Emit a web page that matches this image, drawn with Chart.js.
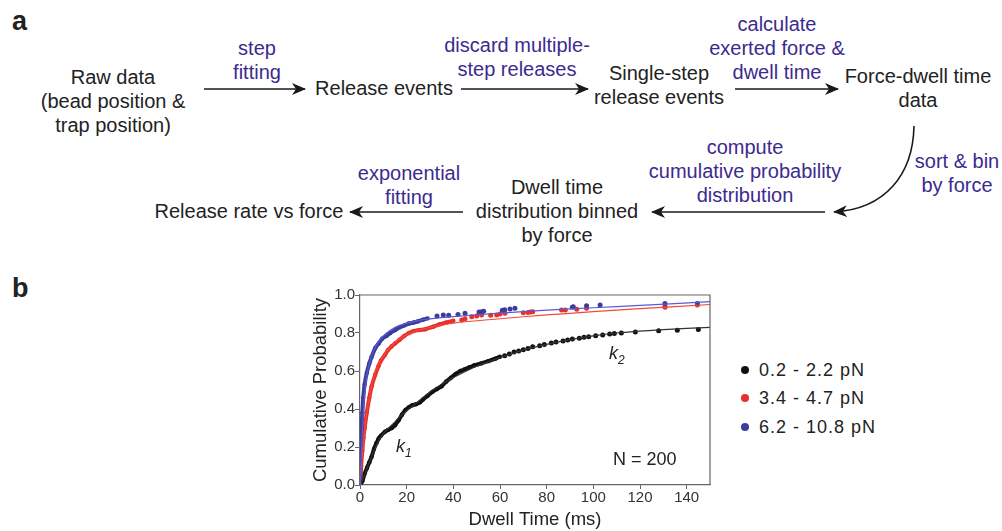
<!DOCTYPE html>
<html>
<head>
<meta charset="utf-8">
<script src="https://cdn.jsdelivr.net/npm/chart.js@4/dist/chart.umd.min.js"></script>
<style>
  html, body { margin: 0; padding: 0; background: #fff; }
  body { width: 1002px; height: 531px; position: relative; overflow: hidden;
         font-family: "Liberation Sans", Arial, sans-serif; color: #222; }
  .t { position: absolute; transform: translate(-50%, -50%); white-space: nowrap;
       text-align: center; font-size: 20px; line-height: 24px; }
  .p { color: #3d2a8e; }
  .panel { position: absolute; font-weight: bold; font-size: 27px; }
  #wrap { position: absolute; left: 300px; top: 280px; width: 420px; height: 251px; }
  .ann { position: absolute; white-space: nowrap; font-size: 18px; color: #222; }
  .lg { position: absolute; left: 759px; font-size: 18px; letter-spacing: 1px; transform: translateY(-50%); white-space: nowrap; }
  .dot { position: absolute; left: 741px; width: 8px; height: 8px; border-radius: 50%; transform: translateY(-50%); }
</style>
</head>
<body>

<div class="panel" style="left:12px; top:6px;">a</div>
<div class="panel" style="left:12px; top:273px;">b</div>

<!-- flow diagram, part a -->
<div class="t" style="left:113px; top:101px;">Raw data<br>(bead position &amp;<br>trap position)</div>
<div class="t p" style="left:257px; top:60px;">step<br>fitting</div>
<div class="t" style="left:384px; top:88px;">Release events</div>
<div class="t p" style="left:517px; top:57px;">discard multiple-<br>step releases</div>
<div class="t" style="left:659px; top:85px;">Single-step<br>release events</div>
<div class="t p" style="left:777px; top:48px;">calculate<br>exerted force &amp;<br>dwell time</div>
<div class="t" style="left:918px; top:88px;">Force-dwell time<br>data</div>
<div class="t p" style="left:957px; top:173px;">sort &amp; bin<br>by force</div>
<div class="t p" style="left:745px; top:171px;">compute<br>cumulative probability<br>distribution</div>
<div class="t" style="left:557px; top:211px;">Dwell time<br>distribution binned<br>by force</div>
<div class="t p" style="left:409px; top:185px;">exponential<br>fitting</div>
<div class="t" style="left:249px; top:211px;">Release rate vs force</div>

<svg width="1002" height="531" style="position:absolute; left:0; top:0;">
  <defs>
    <marker id="ah" viewBox="0 0 14 12" refX="13" refY="6" markerWidth="14" markerHeight="12"
            markerUnits="userSpaceOnUse" orient="auto">
      <path d="M0,0 L14,6 L0,12 L4,6 Z" fill="#1a1a1a"/>
    </marker>
  </defs>
  <g stroke="#1a1a1a" stroke-width="1.6" fill="none">
    <line x1="204" y1="89" x2="305" y2="89" marker-end="url(#ah)"/>
    <line x1="461" y1="89" x2="588" y2="89" marker-end="url(#ah)"/>
    <line x1="735" y1="89" x2="838" y2="89" marker-end="url(#ah)"/>
    <path d="M914,126 C913,175 885,209 834,212" marker-end="url(#ah)"/>
    <line x1="825" y1="212" x2="652" y2="212" marker-end="url(#ah)"/>
    <line x1="463" y1="212" x2="350" y2="212" marker-end="url(#ah)"/>
  </g>
</svg>

<!-- part b -->
<div id="wrap"><canvas id="chart" width="420" height="251"></canvas></div>

<div class="ann" style="left:396px; top:436px; font-style:italic;">k<sub style="font-size:12px;">1</sub></div>
<div class="ann" style="left:609px; top:343px; font-style:italic;">k<sub style="font-size:12px;">2</sub></div>
<div class="ann" style="left:613px; top:449px;">N = 200</div>

<div class="dot" style="top:370px; background:#111;"></div>
<div class="lg" style="top:370px;">0.2 - 2.2 pN</div>
<div class="dot" style="top:398px; background:#e8302a;"></div>
<div class="lg" style="top:398px;">3.4 - 4.7 pN</div>
<div class="dot" style="top:427px; background:#3c3c9c;"></div>
<div class="lg" style="top:427px;">6.2 - 10.8 pN</div>

<script>
// tick positions
const xTickValues = [0, 20, 40, 60, 80, 100, 120, 140];
const yTickValues = [0, 0.2, 0.4, 0.6, 0.8, 1.0];

// 0.2 - 2.2 pN  (dwell time ms, cumulative probability)
const blackDense = [
  [0, 0], [1, 0.02], [2, 0.06], [3, 0.09], [4, 0.12], [5, 0.15], [6, 0.19], [7, 0.22],
  [8, 0.245], [9, 0.26], [10.7, 0.28], [12, 0.29], [13.6, 0.3], [15, 0.315], [16.5, 0.34],
  [18, 0.37], [19.5, 0.395], [21, 0.41], [22.5, 0.42], [24, 0.425], [25.7, 0.435], [27, 0.45],
  [29, 0.47], [31, 0.49], [33, 0.505], [35, 0.52], [37, 0.545], [39, 0.565], [41, 0.585],
  [43, 0.6], [45, 0.61], [47, 0.62], [49, 0.63], [52, 0.64], [55, 0.652], [58, 0.665], [60, 0.675]
];
const blackSparse = [
  [62, 0.68], [64, 0.69], [66, 0.7], [68, 0.705], [70, 0.712], [72, 0.718], [74, 0.728],
  [77, 0.733], [79, 0.74], [82, 0.748], [84, 0.752], [87, 0.758], [89, 0.763], [91, 0.768],
  [94, 0.772], [96, 0.777], [98, 0.78], [101, 0.785], [104, 0.79], [107, 0.795], [109, 0.798],
  [112, 0.8], [118, 0.805], [128, 0.812], [136, 0.815], [145, 0.818]
];
const blackFit = [
  [0, 0], [2, 0.055], [4, 0.12], [6, 0.18], [8, 0.23], [10, 0.27], [14, 0.32], [18, 0.37],
  [22, 0.41], [26, 0.45], [30, 0.49], [35, 0.53], [40, 0.565], [50, 0.625], [60, 0.67],
  [70, 0.71], [80, 0.74], [90, 0.765], [100, 0.785], [110, 0.8], [120, 0.81], [130, 0.818], [150, 0.83]
];

// 3.4 - 4.7 pN
const redDense = [
  [0, 0], [0.5, 0.1], [1, 0.18], [1.5, 0.25], [2, 0.3], [2.9, 0.38], [4, 0.46], [5, 0.52],
  [6.5, 0.58], [7.9, 0.625], [9, 0.655], [10.7, 0.685], [12, 0.71], [13.6, 0.73], [15, 0.745],
  [17, 0.765], [19, 0.785], [21, 0.8], [23, 0.81], [25.7, 0.816], [28, 0.82], [31.4, 0.833],
  [34, 0.845], [37, 0.855], [40, 0.865]
];
const redSparse = [
  [43.6, 0.868], [45, 0.875], [47.9, 0.886], [50, 0.89], [52.1, 0.895], [56, 0.893],
  [58.6, 0.895], [60, 0.9], [62.1, 0.904], [70, 0.907], [72, 0.908], [73, 0.91], [74, 0.912],
  [86.4, 0.921], [88, 0.921], [92.9, 0.925], [97.1, 0.93], [130.7, 0.935], [130.7, 0.94], [144.6, 0.947]
];
const redFit = [
  [0, 0], [1, 0.15], [2, 0.29], [3, 0.39], [4, 0.46], [6, 0.57], [8, 0.635], [10, 0.68],
  [13, 0.725], [16, 0.76], [20, 0.79], [25, 0.815], [30, 0.83], [40, 0.852], [60, 0.875],
  [80, 0.895], [100, 0.912], [120, 0.928], [150, 0.95]
];

// 6.2 - 10.8 pN
const blueDense = [
  [0, 0], [0.3, 0.2], [0.6, 0.3], [1, 0.38], [1.4, 0.46], [2, 0.53], [2.9, 0.59], [4, 0.64],
  [5, 0.675], [6.5, 0.72], [8, 0.745], [9.5, 0.77], [11.4, 0.785], [13, 0.8], [15, 0.815],
  [17, 0.83], [19, 0.84], [21, 0.85], [23, 0.855], [25, 0.862], [27, 0.87], [29, 0.877]
];
const blueSparse = [
  [33, 0.89], [35.7, 0.895], [38, 0.893], [42, 0.897], [45, 0.904], [51, 0.91], [52.1, 0.912],
  [53, 0.915], [61, 0.92], [62, 0.922], [64.3, 0.926], [66.4, 0.93], [91, 0.935], [91.4, 0.938],
  [97.1, 0.944], [102.9, 0.947], [130.7, 0.955], [144.6, 0.955]
];
const blueFit = [
  [0, 0], [1, 0.28], [2, 0.48], [3, 0.58], [4, 0.64], [6, 0.71], [8, 0.755], [10, 0.785],
  [13, 0.815], [16, 0.835], [20, 0.85], [25, 0.865], [30, 0.874], [40, 0.886], [60, 0.905],
  [80, 0.92], [100, 0.933], [120, 0.945], [150, 0.965]
];

const xy = (arr) => arr.map(([x, y]) => ({ x, y }));

const BLACK = '#111111';
const RED = '#e8302a';
const BLUE = '#3c3c9c';

function fitLine(data, color) {
  return { data: xy(data), showLine: true, borderColor: color, borderWidth: 1.2,
           pointRadius: 0, tension: 0.35, fill: false };
}
function denseLine(data, color) {
  return { data: xy(data), showLine: true, borderColor: color, borderWidth: 4,
           backgroundColor: color, pointRadius: 2.2, pointBorderWidth: 0, tension: 0.2 };
}
function dots(data, color) {
  return { data: xy(data), showLine: false, backgroundColor: color, borderColor: color,
           pointRadius: 2.5, pointBorderWidth: 0 };
}

// top and right edge of the plot frame
const frame = {
  id: 'frame',
  afterDraw(chart) {
    const { ctx, chartArea: a } = chart;
    ctx.save();
    ctx.strokeStyle = '#666';
    ctx.lineWidth = 1.2;
    ctx.beginPath();
    ctx.moveTo(a.left, a.top);
    ctx.lineTo(a.right, a.top);
    ctx.lineTo(a.right, a.bottom);
    ctx.stroke();
    ctx.restore();
  }
};

const tickFont = { family: '"Liberation Sans", Arial, sans-serif', size: 15 };
const titleFont = { family: '"Liberation Sans", Arial, sans-serif', size: 18.5 };

new Chart(document.getElementById('chart'), {
  type: 'scatter',
  data: {
    datasets: [
      fitLine(blueFit, '#5a5ad2'),
      fitLine(redFit, '#f04a3a'),
      fitLine(blackFit, '#333333'),
      dots(blueSparse, BLUE),
      dots(redSparse, RED),
      dots(blackSparse, BLACK),
      denseLine(blueDense, BLUE),
      denseLine(redDense, RED),
      denseLine(blackDense, BLACK),
    ],
  },
  options: {
    responsive: false,
    animation: false,
    layout: { padding: { top: 15, right: 10, left: 0, bottom: 0 } },
    scales: {
      x: {
        min: 0,
        max: 150,
        afterBuildTicks: (s) => { s.ticks = xTickValues.map((v) => ({ value: v })); },
        afterFit: (s) => { s.height = 46; },
        ticks: { font: tickFont, color: '#333', padding: 0, maxRotation: 0 },
        grid: { drawOnChartArea: false, drawTicks: true, tickLength: 4, color: '#666' },
        border: { display: true, color: '#666', width: 1.2 },
        title: { display: true, text: 'Dwell Time (ms)', font: titleFont, color: '#222',
                 padding: { top: 0, bottom: 0 } },
      },
      y: {
        min: 0,
        max: 1,
        afterBuildTicks: (s) => { s.ticks = yTickValues.map((v) => ({ value: v })); },
        afterFit: (s) => { s.width = 60; },
        ticks: { font: tickFont, color: '#333', padding: 0, callback: (v) => v.toFixed(1) },
        grid: { drawOnChartArea: false, drawTicks: true, tickLength: 5, color: '#666' },
        border: { display: true, color: '#666', width: 1.2 },
        title: { display: true, text: 'Cumulative Probability', font: titleFont, color: '#222',
                 padding: { top: 10, bottom: 0 } },
      },
    },
    plugins: {
      legend: { display: false },
      tooltip: { enabled: false },
    },
  },
  plugins: [frame],
});
</script>
</body>
</html>
